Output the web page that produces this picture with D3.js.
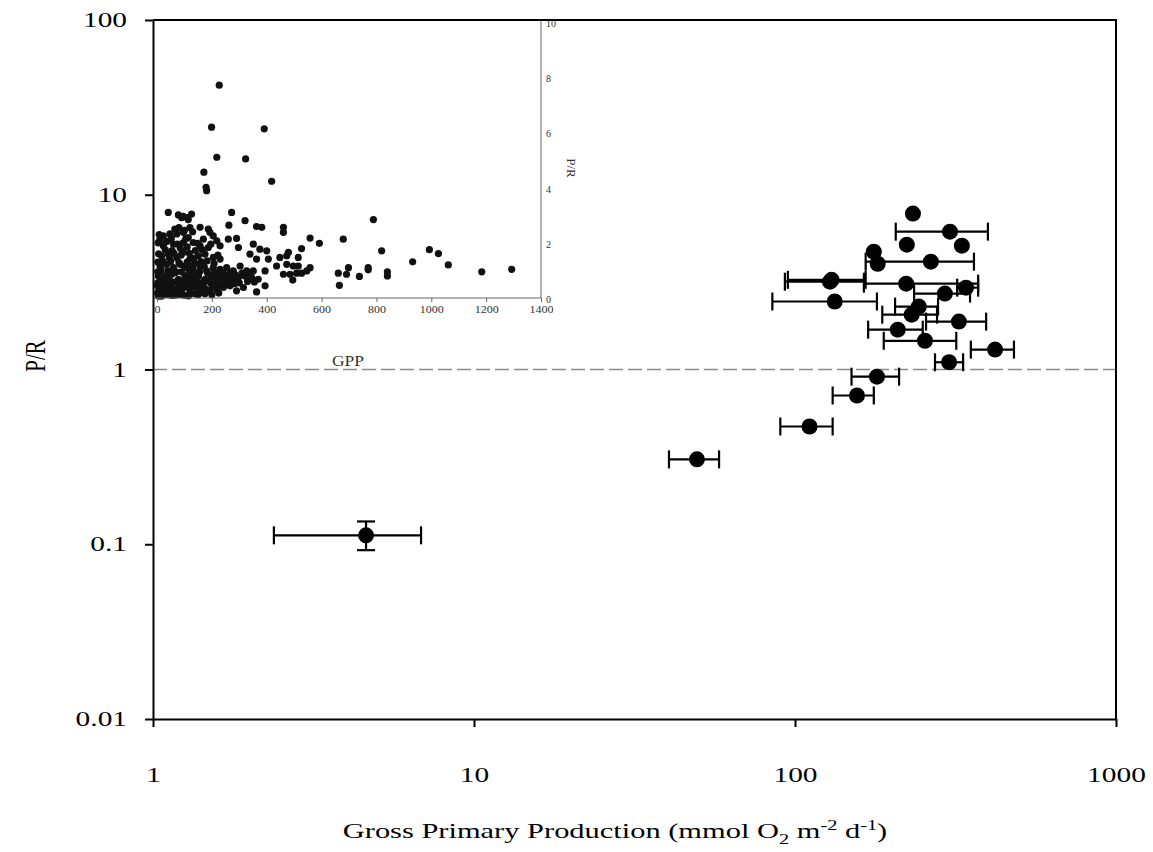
<!DOCTYPE html>
<html>
<head>
<meta charset="utf-8">
<script src="https://cdn.jsdelivr.net/npm/d3@7"></script>
<style>
  body { margin: 0; background: #fff; }
  svg { display: block; }
</style>
</head>
<body>
<svg id="chart"></svg>
<script>
//Main plot data: GPP (mmol O2 m-2 d-1) and P/R, with x error bars (null = none)
const gpp   = [233, 304, 223, 331, 176, 181, 265, 128.5, 130, 222, 341, 293, 133, 243, 231, 324, 209, 254, 420, 302, 180, 156, 111, 49.5, 4.61];
const pr    = [7.8, 6.15, 5.18, 5.11, 4.72, 4.03, 4.14, 3.18, 3.26, 3.10, 2.94, 2.72, 2.45, 2.29, 2.06, 1.88, 1.69, 1.46, 1.30, 1.10, 0.91, 0.71, 0.472, 0.306, 0.1125];
const gppLo = [null, 206, null, null, null, null, 166, 93, 95, 164, 320, 235, 85, 205, 187, 256, 169, 189, 353, 273, 150, 131, 90, 40.5, 2.38];
const gppHi = [null, 399, null, null, null, null, 361, 164, 166, 372, 372, 351, 180, 279, 277, 394, 250, 318, 481, 334, 211, 176, 131, 58, 6.84];
const prLo  = [null, null, null, null, null, null, null, null, null, null, null, null, null, null, null, null, null, null, null, null, null, null, null, null, 0.0925];
const prHi  = [null, null, null, null, null, null, null, null, null, null, null, null, null, null, null, null, null, null, null, null, null, null, null, null, 0.135];

const xTicks = [1, 10, 100, 1000];
const yTicks = [0.01, 0.1, 1, 10, 100];

//Inset data (linear axes)
const insetGpp = [
  227, 199, 391, 218, 323, 171, 179, 181, 418,
  41, 78, 96, 111, 126, 114, 90, 272,
  157, 187, 262, 321, 363, 382, 461, 461,
  23, 47, 72, 96, 114, 193, 205, 169, 218, 260, 290,
  23, 60, 96, 132, 157, 187, 230, 297, 351, 375, 400,
  17, 41, 72, 96, 120, 151, 175, 205, 230, 339, 363, 406, 448, 473,
  11, 35, 60, 84, 108, 132, 157, 181, 205, 230, 254, 278, 303, 327, 351, 394, 436,
  5, 29, 53, 78, 102, 126, 151, 175, 199, 224, 248, 278, 297, 321, 345, 369,
  2, 23, 47, 72, 96, 120, 145, 169, 193, 218, 242, 266, 290, 315, 394, 363,
  5, 2, 17, 35, 53, 78, 102, 126,
  12, 30, 48, 66, 88, 110, 130, 14, 40, 66, 90, 118, 140, 20, 50, 80, 110, 138, 160,
  30, 55, 85, 110, 140, 8, 28, 60, 90, 150, 170, 195, 220, 245, 265, 160, 185, 210, 240, 260,
  3, 3, 3, 6, 4, 8, 15, 25, 38, 45, 58, 62, 70, 75, 82, 88, 95, 100, 105, 112,
  118, 125, 128, 135, 142, 148, 155, 162, 165, 172, 178, 183, 190, 196, 202, 208, 215, 222, 228, 235,
  250, 256, 270, 283, 285, 300, 310, 330, 340, 355, 10, 35, 52, 65, 80, 100, 120, 130,
  45, 65, 90, 115, 140, 20, 40, 150, 175, 200, 225,
  558, 592, 679, 789, 819, 932, 993, 1026, 1062, 1184, 1293, 479, 527, 515, 473, 497, 515,
  461, 485, 509, 527, 546, 558, 495, 661, 698, 691, 738, 770, 770, 840, 840, 665
];
const insetPr = [
  7.71, 6.19, 6.13, 5.10, 5.04, 4.56, 4.01, 3.89, 4.23,
  3.10, 3.01, 2.96, 2.91, 3.04, 2.84, 2.91, 3.10,
  2.56, 2.50, 2.64, 2.80, 2.59, 2.56, 2.56, 2.38,
  2.25, 2.32, 2.32, 2.38, 2.19, 2.38, 2.25, 2.13, 2.07, 2.13, 2.16,
  1.89, 1.95, 2.01, 2.01, 1.89, 1.83, 1.89, 1.83, 1.95, 1.77, 1.71,
  1.53, 1.59, 1.47, 1.65, 1.41, 1.53, 1.59, 1.47, 1.41, 1.59, 1.41, 1.41, 1.47, 1.53,
  1.16, 1.22, 1.10, 1.22, 1.10, 1.04, 1.16, 0.98, 1.10, 1.04, 1.10, 0.98, 1.16, 0.98, 0.98, 0.98, 1.16,
  0.80, 0.74, 0.86, 0.68, 0.80, 0.74, 0.80, 0.68, 0.80, 0.74, 0.80, 0.68, 0.74, 0.80, 0.74, 0.68,
  0.44, 0.38, 0.50, 0.32, 0.44, 0.26, 0.38, 0.44, 0.26, 0.32, 0.38, 0.44, 0.26, 0.38, 0.44, 0.22,
  0.07, 0.19, 0.07, 0.13, 0.09, 0.13, 0.09, 0.17,
  0.60, 0.55, 0.62, 0.58, 0.55, 0.60, 0.52, 0.95, 0.98, 0.92, 0.95, 0.90, 0.88, 1.35, 1.33, 1.28, 1.30, 1.25, 1.32,
  1.75, 1.72, 1.80, 1.85, 1.72, 0.30, 0.25, 0.20, 0.28, 0.55, 0.60, 0.55, 0.58, 0.60, 0.58, 0.22, 0.90, 0.92, 0.90, 0.85,
  0.55, 0.95, 1.30, 1.60, 2.00, 2.30, 1.05, 0.45, 0.85, 1.45, 0.35, 1.62, 0.95, 1.95, 0.48, 1.55, 0.62, 1.15, 2.15, 0.38,
  1.62, 1.15, 0.42, 1.45, 0.65, 1.98, 0.95, 0.45, 1.75, 1.15, 0.32, 1.35, 0.62, 1.95, 0.42, 1.25, 0.72, 1.55, 0.48, 0.92,
  0.48, 0.72, 0.92, 0.52, 0.85, 0.55, 0.90, 0.60, 0.88, 0.58, 2.10, 2.05, 2.15, 2.50, 2.55, 2.45, 2.55, 2.40,
  0.15, 0.10, 0.12, 0.08, 0.15, 0.30, 0.28, 0.12, 0.15, 0.12, 0.18,
  2.17, 1.98, 2.13, 2.84, 1.71, 1.31, 1.75, 1.61, 1.20, 0.95, 1.04, 1.65, 1.79, 1.47, 1.22, 1.16, 1.16,
  0.86, 0.86, 0.90, 0.90, 0.98, 1.10, 0.65, 0.90, 1.10, 0.86, 0.78, 1.10, 1.02, 0.95, 0.80, 0.46
];
const insetXTicks = [0, 200, 400, 600, 800, 1000, 1200, 1400];
const insetYTicks = [0, 2, 4, 6, 8, 10];

//Layout
const W = 1153, H = 852;
const mLeft = 153, mRight = 1116, mTop = 20, mBottom = 719;
const FONT = "'Liberation Serif', 'Times New Roman', serif";
const SX = 1.4; //the scanned figure is stretched horizontally

const svg = d3.select("#chart").attr("width", W).attr("height", H);
svg.append("rect").attr("width", W).attr("height", H).attr("fill", "#fff");

//Scales
const x = d3.scaleLog().domain([1, 1000]).range([mLeft, mRight]);
const y = d3.scaleLog().domain([0.01, 100]).range([mBottom, mTop]);

const ix = d3.scaleLinear().domain([0, 1400]).range([157, 541]);
const iy = d3.scaleLinear().domain([0, 10]).range([298, 22]);

//---- Inset ----
const inset = svg.append("g");

inset.selectAll(".ipt")
  .data(insetGpp.map((g, i) => ({g: g, p: insetPr[i]})))
  .enter()
  .append("circle")
  .attr("cx", d => ix(d.g))
  .attr("cy", d => iy(d.p))
  .attr("r", 3.6)
  .attr("fill", "#111");

//inset bottom axis
const ixAxis = inset.append("g")
  .attr("transform", `translate(0,${iy(0)})`)
  .call(d3.axisBottom(ix).tickValues(insetXTicks).tickFormat(d3.format("d")).tickSize(4).tickSizeOuter(0));
ixAxis.select(".domain").attr("stroke", "#666").attr("d", `M${mLeft},0H${ix(1400)}`);
ixAxis.selectAll(".tick line").attr("stroke", "#666");
ixAxis.selectAll(".tick text")
  .attr("font-family", FONT).attr("font-size", 10).attr("fill", "#333")
  .attr("y", 8).attr("dy", "0.71em")
  .attr("textLength", d => String(d).length * 6)
  .attr("lengthAdjust", "spacingAndGlyphs");

//inset right axis
const iyAxis = inset.append("g")
  .attr("transform", `translate(${ix(1400)},0)`)
  .call(d3.axisRight(iy).tickValues(insetYTicks).tickSize(0).tickSizeOuter(0));
iyAxis.select(".domain").attr("stroke", "#666").attr("d", `M0,${mTop}V${iy(0)}`);
iyAxis.selectAll("text")
  .attr("font-family", FONT).attr("font-size", 10).attr("fill", "#333")
  .attr("x", 5).attr("dy", "0.45em");

inset.append("text")
  .attr("transform", "translate(572,168) rotate(90)")
  .attr("text-anchor", "middle")
  .attr("dy", "0.35em")
  .attr("font-family", FONT).attr("font-size", 13).attr("fill", "#333")
  .text("P/R");

inset.append("text")
  .attr("transform", "translate(348,366) scale(1.25,1)")
  .attr("text-anchor", "middle")
  .attr("font-family", FONT).attr("font-size", 14).attr("fill", "#333")
  .text("GPP");

//---- Main plot ----
//reference line at P/R = 1
svg.append("line")
  .attr("x1", mLeft).attr("x2", mRight)
  .attr("y1", y(1)).attr("y2", y(1))
  .attr("stroke", "#8a8a8a")
  .attr("stroke-width", 1.5)
  .attr("stroke-dasharray", "14,5");

//frame
svg.append("path")
  .attr("d", `M${mLeft},${mTop}H${mRight}V${mBottom}`)
  .attr("fill", "none").attr("stroke", "#000").attr("stroke-width", 2);

const xAxis = svg.append("g")
  .attr("transform", `translate(0,${mBottom})`)
  .call(d3.axisBottom(x).tickValues(xTicks).tickFormat(d3.format("d")).tickSize(8).tickSizeOuter(0));
xAxis.select(".domain").attr("stroke-width", 2);
xAxis.selectAll(".tick line").attr("stroke-width", 2);
xAxis.selectAll("text")
  .attr("font-family", FONT).attr("font-size", 21).attr("fill", "#000")
  .attr("y", 63).attr("dy", 0)
  .attr("transform", `scale(${SX},1)`);

const yAxis = svg.append("g")
  .attr("transform", `translate(${mLeft},0)`)
  .call(d3.axisLeft(y).tickValues(yTicks).tickFormat(d => String(d)).tickSize(8).tickSizeOuter(0));
yAxis.select(".domain").attr("stroke-width", 2);
yAxis.selectAll(".tick line").attr("stroke-width", 2);
yAxis.selectAll("text")
  .attr("font-family", FONT).attr("font-size", 21).attr("fill", "#000")
  .attr("x", -26 / SX)
  .attr("transform", `scale(${SX},1)`);

//axis titles
svg.append("text")
  .attr("transform", `translate(35,356) scale(${SX},1) rotate(-90)`)
  .attr("text-anchor", "middle")
  .attr("dy", "0.35em")
  .attr("font-family", FONT).attr("font-size", 21)
  .text("P/R");

const xTitle = svg.append("text")
  .attr("transform", `translate(615,838) scale(1.45,1)`)
  .attr("text-anchor", "middle")
  .attr("font-family", FONT).attr("font-size", 21);
xTitle.append("tspan").text("Gross Primary Production (mmol O");
xTitle.append("tspan").attr("font-size", 14).attr("dy", 6).text("2");
xTitle.append("tspan").attr("dy", -6).text(" m");
xTitle.append("tspan").attr("font-size", 14).attr("dy", -8).text("-2");
xTitle.append("tspan").attr("dy", 8).text(" d");
xTitle.append("tspan").attr("font-size", 14).attr("dy", -8).text("-1");
xTitle.append("tspan").attr("dy", 8).text(")");

//error bars and points
const pts = gpp.map((g, i) => ({g: g, p: pr[i], lo: gppLo[i], hi: gppHi[i], plo: prLo[i], phi: prHi[i]}));
const cap = 9;
const eb = svg.append("g").attr("stroke", "#000").attr("stroke-width", 2.2).attr("fill", "none");

pts.filter(d => d.lo !== null).forEach(d => {
  const yy = y(d.p);
  eb.append("line").attr("x1", x(d.lo)).attr("x2", x(d.hi)).attr("y1", yy).attr("y2", yy);
  eb.append("line").attr("x1", x(d.lo)).attr("x2", x(d.lo)).attr("y1", yy - cap).attr("y2", yy + cap);
  eb.append("line").attr("x1", x(d.hi)).attr("x2", x(d.hi)).attr("y1", yy - cap).attr("y2", yy + cap);
});
pts.filter(d => d.plo !== null).forEach(d => {
  const xx = x(d.g);
  eb.append("line").attr("x1", xx).attr("x2", xx).attr("y1", y(d.plo)).attr("y2", y(d.phi));
  eb.append("line").attr("x1", xx - cap).attr("x2", xx + cap).attr("y1", y(d.plo)).attr("y2", y(d.plo));
  eb.append("line").attr("x1", xx - cap).attr("x2", xx + cap).attr("y1", y(d.phi)).attr("y2", y(d.phi));
});

svg.selectAll(".pt")
  .data(pts)
  .enter()
  .append("circle")
  .attr("cx", d => x(d.g))
  .attr("cy", d => y(d.p))
  .attr("r", 8)
  .attr("fill", "#000");
</script>
</body>
</html>
